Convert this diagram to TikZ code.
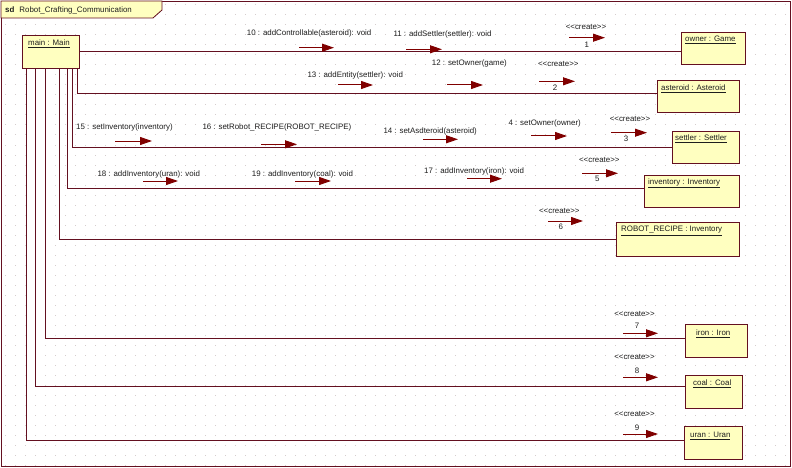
\documentclass[tikz,border=0pt]{standalone}
\usepackage{fontspec}
\setmainfont[Ligatures=NoCommon]{Liberation Sans}
\usetikzlibrary{arrows.meta,calc}
\definecolor{lnc}{RGB}{100,16,32}
\definecolor{arc}{RGB}{128,0,0}
\definecolor{boxfill}{RGB}{255,255,192}
\definecolor{gridc}{RGB}{212,204,204}
\definecolor{txt}{RGB}{30,30,30}
\newcommand{\crt}{<{}<create>{}>}
\begin{document}
\begin{tikzpicture}[x=1pt,y=-1pt, font=\fontsize{7.9}{9}\selectfont,
  obj/.style={draw=lnc, fill=boxfill, line width=0.8pt, anchor=north west, inner sep=0pt},
  conn/.style={draw=lnc, line width=0.8pt},
  msgarrow/.style={draw=arc, line width=1pt, -{Triangle[length=12pt,width=8pt]}},
  lbl/.style={anchor=west, inner sep=0pt, text=txt},
  ctr/.style={inner sep=0pt, text=txt},
]
\fill[white] (0,0) rectangle (792,468);
\useasboundingbox (0,0) rectangle (792,468);
% dotted grid
\foreach \i in {0,...,78}{
  \foreach \j in {0,...,46}{
    \fill[gridc] (4.5+10*\i,4.5+10*\j) rectangle ++(1,1);
  }
}
% frame
\draw[lnc, line width=0.8pt] (1,1) rectangle (790,466);
\draw[lnc, line width=0.8pt, fill=boxfill] (1,1) -- (162,1) -- (162,10) -- (153,18) -- (1,18) -- cycle;
\node[lbl] (title) at (5,10) {\textbf{sd}\hspace{5pt}Robot\_Crafting\_Communication};

% lifeline boxes
\node[obj, minimum width=57pt, minimum height=33pt] (main) at (22,35) {};
\node[lbl] (mainL) at (28,44) {\underline{main : Main}};
\node[obj, minimum width=64pt, minimum height=32pt] (owner) at (681,32) {};
\node[lbl] (ownerL) at (685,40) {\underline{owner : Game}};
\node[obj, minimum width=82pt, minimum height=32pt] (asteroid) at (657,80) {};
\node[lbl] (asteroidL) at (661,88.5) {\underline{asteroid : Asteroid}};
\node[obj, minimum width=67pt, minimum height=32pt] (settler) at (672,131) {};
\node[lbl] (settlerL) at (675,139) {\underline{settler : Settler}};
\node[obj, minimum width=95pt, minimum height=32pt] (inventory) at (644,175) {};
\node[lbl] (inventoryL) at (648,183) {\underline{inventory : Inventory}};
\node[obj, minimum width=123pt, minimum height=34pt] (recipe) at (616,222) {};
\node[lbl] (recipeL) at (621,231) {\underline{ROBOT\_RECIPE : Inventory}};
\node[obj, minimum width=62pt, minimum height=33pt] (iron) at (685,324) {};
\node[lbl] (ironL) at (696,333.5) {\underline{iron : Iron}};
\node[obj, minimum width=57pt, minimum height=33pt] (coal) at (685,375) {};
\node[lbl] (coalL) at (693,384) {\underline{coal : Coal}};
\node[obj, minimum width=58pt, minimum height=33pt] (uran) at (684,426) {};
\node[lbl] (uranL) at (690,436) {\underline{uran : Uran}};

% links
\draw[conn] (main.east) -- (main.east -| owner.west);
\draw[conn] ([xshift=55pt]main.south west) |- ([yshift=-13pt]asteroid.north west);
\draw[conn] ([xshift=50pt]main.south west) |- ([yshift=-16pt]settler.north west);
\draw[conn] ([xshift=45pt]main.south west) |- ([yshift=-13pt]inventory.north west);
\draw[conn] ([xshift=37pt]main.south west) |- ([yshift=-17pt]recipe.north west);
\draw[conn] ([xshift=23pt]main.south west) |- ([yshift=-14pt]iron.north west);
\draw[conn] ([xshift=13pt]main.south west) |- ([yshift=-11pt]coal.north west);
\draw[conn] ([xshift=4pt]main.south west) |- ([yshift=-14pt]uran.north west);

% message arrows
\foreach \n/\xa/\xb/\yy in {
  10/299/334/47.7, 11/406/442/49.3, c1/569/605/37.7,
  13/338/373/85, 12/447/483/85, c2/539/575/81.3,
  15/115/152/141, 16/261/297/144.3, 14/423/458/139.3, 4/531/567/136, c3/611/647/132.7,
  18/143/178/181, 19/295/331/181, 17/467/502/178.7, c5/582/618/173.3,
  c6/548/583/221,
  c7/623/658/333.3, c8/623/658/377.3, c9/623/658/434}{
  \coordinate (m\n a) at (\xa,\yy);
  \coordinate (m\n b) at (\xb,\yy);
  \draw[msgarrow] (m\n a) -- (m\n b);
}

% message labels
\node[lbl] (t10) at (246.7,33.3) {10 : addControllable(asteroid): void};
\node[lbl] (t11) at (393.3,34.3) {11 : addSettler(settler): void};
\node[ctr] (k1) at (586,26.7) {\crt};
\node[ctr] (n1) at (586.7,45) {1};

\node[lbl] (t13) at (307.3,75) {13 : addEntity(settler): void};
\node[lbl] (t12) at (431.7,63.3) {12 : setOwner(game)};
\node[ctr] (k2) at (558.3,64.3) {\crt};
\node[ctr] (n2) at (555,87.3) {2};

\node[lbl] (t15) at (76,127.3) {15 : setInventory(inventory)};
\node[lbl] (t16) at (202.3,127.3) {16 : setRobot\_RECIPE(ROBOT\_RECIPE)};
\node[lbl] (t14) at (383.3,131) {14 : setAsdteroid(asteroid)};
\node[lbl] (t4) at (508.3,123.3) {4 : setOwner(owner)};
\node[ctr] (k3) at (630,119) {\crt};
\node[ctr] (n3) at (626,139) {3};

\node[lbl] (t18) at (97.3,174) {18 : addInventory(uran): void};
\node[lbl] (t19) at (251.7,174) {19 : addInventory(coal): void};
\node[lbl] (t17) at (424,171) {17 : addInventory(iron): void};
\node[ctr] (k5) at (599.3,160) {\crt};
\node[ctr] (n5) at (597.3,179) {5};

\node[ctr] (k6) at (559.3,210.7) {\crt};
\node[ctr] (n6) at (560.7,226.7) {6};

\node[ctr] (k7) at (634.5,314) {\crt};
\node[ctr] (n7) at (637,326) {7};
\node[ctr] (k8) at (634.5,357) {\crt};
\node[ctr] (n8) at (637,371) {8};
\node[ctr] (k9) at (634.5,414) {\crt};
\node[ctr] (n9) at (637,427.7) {9};
\end{tikzpicture}
\end{document}
